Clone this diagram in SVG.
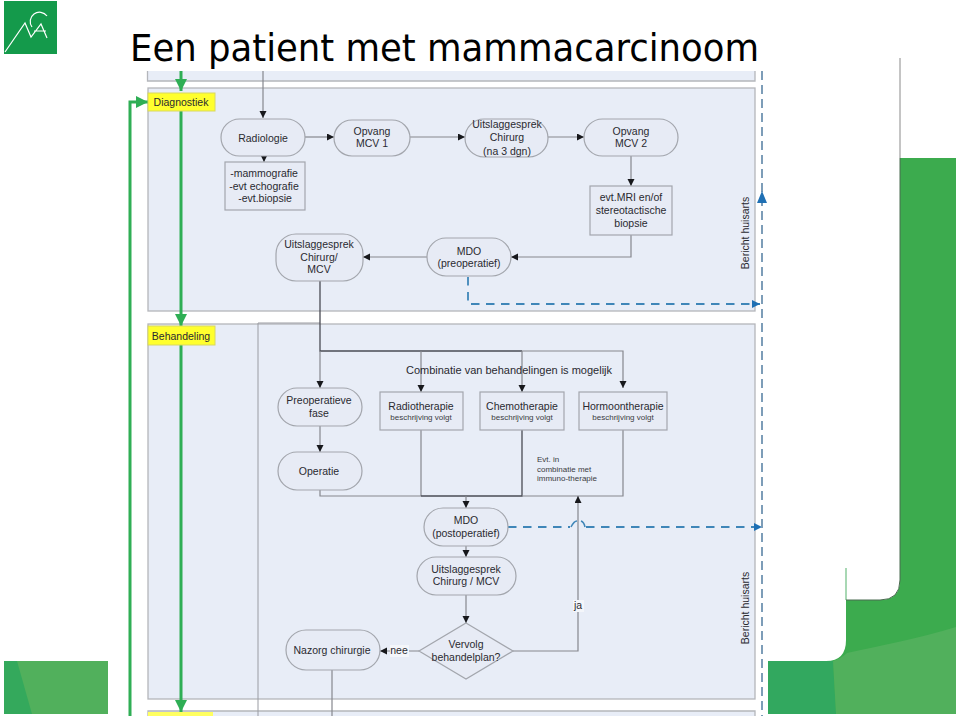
<svg xmlns="http://www.w3.org/2000/svg" width="960" height="716" viewBox="0 0 960 716">
<style>
.band{fill:#e8edf7;stroke:#b4b6bb;stroke-width:1.3}
.pill,.box,.dec{fill:#e7ebf5;stroke:#a3a6ad;stroke-width:1.2}
.lbl{fill:#ffff2e;stroke:#d8d860;stroke-width:1}
text{font-family:"Liberation Sans",Arial,sans-serif;fill:#2a2a30;text-anchor:middle}
.n{font-size:10.5px}
.s{font-size:8px;fill:#3c3c42}
.flow{fill:none;stroke:#85878e;stroke-width:1.2}
.dark{fill:none;stroke:#4a4c55;stroke-width:1.3}
.green{fill:none;stroke:#2fae55;stroke-width:3}
.dash{fill:none;stroke:#3f86b8;stroke-width:1.8;stroke-dasharray:8.5 6.5}
.side{fill:none;stroke:#7d9db8;stroke-width:2;stroke-dasharray:9 5}
</style>
<defs>
<marker id="a" markerWidth="8" markerHeight="8" refX="7" refY="3.5" orient="auto" markerUnits="userSpaceOnUse"><path d="M0 0L7 3.5L0 7Z" fill="#17181c"/></marker>
<marker id="g" markerWidth="14" markerHeight="14" refX="12" refY="6" orient="auto" markerUnits="userSpaceOnUse"><path d="M0 0L12 6L0 12Z" fill="#2fae55"/></marker>
<marker id="b" markerWidth="10" markerHeight="10" refX="8" refY="4" orient="auto" markerUnits="userSpaceOnUse"><path d="M0 0L8 4L0 8Z" fill="#1f70b4"/></marker>
</defs>

<!-- slide background -->
<rect width="960" height="716" fill="#fff"/>
<g id="backdrop">
<path d="M900 158H956V714H768V661H826Q846 661 846 640V600H880Q900 600 900 580Z" fill="#3cab4e"/>
<path d="M768 661H833L836 714H768Z" fill="#32a85f"/>
<path d="M833 661Q842 658 847 653C880 646 920 638 956 627V714H836Z" fill="#51b05c"/>
<path d="M900 58V158" fill="none" stroke="#8a8a8a"/>
<path d="M846 568V600" fill="none" stroke="#a8d8b4" stroke-width="2"/>
<path d="M846 600H880Q900 600 900 580V158" fill="none" stroke="#4b6b50" stroke-width="1"/>
<rect x="4" y="661" width="104" height="53" fill="#51b05c"/>
<path d="M4 661H17L32 714H4Z" fill="#34a95c"/>
</g>
<g id="logo">
<rect x="4" y="1" width="53" height="53" fill="#149a4b"/>
<path d="M5 52L25 23L31 37L41 24L47 38M47 16A9 9 0 1 0 32 27M34 31H46" fill="none" stroke="#fff" stroke-width="1.2"/>
</g>
<text x="130" y="61" style="font-family:'DejaVu Sans',Verdana,sans-serif;font-size:37px;text-anchor:start;fill:#000" textLength="629" lengthAdjust="spacingAndGlyphs">Een patient met mammacarcinoom</text>

<!-- swimlanes -->
<g id="lanes">
<path d="M147 71H755V81H147Z" fill="#e8edf7"/>
<path d="M147.500 71V81H755V71" fill="none" stroke="#b4b6bb" stroke-width="1.300"/>
<rect class="band" x="148" y="88" width="607" height="223"/>
<rect class="band" x="148" y="324" width="607" height="375"/>
<path d="M148 716V711H755V716" fill="#e8edf7" stroke="#b4b6bb" stroke-width="1.300"/>
<path d="M258 716V323H320" fill="none" stroke="#9a9ca3" stroke-width="1"/>
</g>

<!-- connectors -->
<g id="connectors">
<path class="flow" d="M263 71V118" marker-end="url(#a)"/>
<path class="flow" d="M264 156V162" marker-end="url(#a)"/>
<path class="flow" d="M305 137H334" marker-end="url(#a)"/>
<path class="flow" d="M410 137H465" marker-end="url(#a)"/>
<path class="flow" d="M548 137H584" marker-end="url(#a)"/>
<path class="flow" d="M631 156V186" marker-end="url(#a)"/>
<path class="flow" d="M631 235V257H511" marker-end="url(#a)"/>
<path class="flow" d="M427 257H363" marker-end="url(#a)"/>
<path class="dark" d="M320 281V351H522"/>
<path class="flow" d="M522 351H623V388" marker-end="url(#a)"/>
<path class="flow" d="M320 351V388" marker-end="url(#a)"/>
<path class="flow" d="M421 351V392" marker-end="url(#a)"/>
<path class="flow" d="M522 351V392" marker-end="url(#a)"/>
<path class="flow" d="M320 426V452" marker-end="url(#a)"/>
<path class="flow" d="M320 489V496H421"/>
<path class="flow" d="M421 430V496"/>
<path class="dark" d="M421 496H522V430"/>
<path class="flow" d="M522 496H623V430"/>
<path class="flow" d="M466 496V508" marker-end="url(#a)"/>
<path class="flow" d="M466 546V557" marker-end="url(#a)"/>
<path class="flow" d="M466 595V623" marker-end="url(#a)"/>
<path class="flow" d="M419 651H380" marker-end="url(#a)"/>
<path class="flow" d="M513 651H578V496" marker-end="url(#a)"/>
<path class="flow" d="M332 670V716"/>
<path class="green" d="M181 71V91" marker-end="url(#g)"/>
<path class="green" d="M181 110V326" marker-end="url(#g)"/>
<path class="green" d="M181 345V712" marker-end="url(#g)"/>
<path class="green" d="M130 716V102H148" marker-end="url(#g)"/>
<path class="dash" d="M468 277V304H760" marker-end="url(#b)"/>
<path class="dash" d="M508 527H570M586 527H762" marker-end="url(#b)"/>
<path d="M571 527Q574 521 577 521M581 521Q584 522 585 527" fill="none" stroke="#3f86b8" stroke-width="1.500"/>
<path class="side" d="M762 71V716"/>
<path d="M757 203L762 191L767 203Z" fill="#1f70b4"/>
</g>

<!-- process steps -->
<g id="n-diagnostiek"><rect class="lbl" x="148" y="93" width="67" height="18"/><text class="n" x="181" y="106">Diagnostiek</text></g>
<g id="n-behandeling"><rect class="lbl" x="148" y="326" width="67" height="19"/><text class="n" x="181" y="340">Behandeling</text></g>
<g id="n-next"><rect x="148" y="712" width="65" height="4" fill="#ffff60"/></g>
<g id="n-radiologie"><rect class="pill" x="221" y="119" width="84" height="37" rx="18.500"/><text class="n" x="263" y="142">Radiologie</text></g>
<g id="n-onderzoek"><rect class="box" x="225" y="162" width="80" height="48"/><text class="n" x="264" y="177">-mammografie</text><text class="n" x="264" y="190">-evt echografie</text><text class="n" x="265" y="202">-evt.biopsie</text></g>
<g id="n-opvang1"><rect class="pill" x="334" y="120" width="76" height="36" rx="18"/><text class="n" x="372" y="135">Opvang</text><text class="n" x="372" y="147">MCV 1</text></g>
<g id="n-uitslag1"><rect class="pill" x="465" y="119" width="83" height="38" rx="19"/><text class="n" x="507" y="128">Uitslaggesprek</text><text class="n" x="507" y="141">Chirurg</text><text class="n" x="507" y="155">(na 3 dgn)</text></g>
<g id="n-opvang2"><rect class="pill" x="584" y="119" width="94" height="37" rx="18.500"/><text class="n" x="631" y="135">Opvang</text><text class="n" x="631" y="147">MCV 2</text></g>
<g id="n-mri"><rect class="box" x="590" y="186" width="82" height="49"/><text class="n" x="631" y="201">evt.MRI en/of</text><text class="n" x="631" y="214">stereotactische</text><text class="n" x="631" y="227">biopsie</text></g>
<g id="n-mdo1"><rect class="pill" x="427" y="238" width="84" height="38" rx="19"/><text class="n" x="469" y="255">MDO</text><text class="n" x="469" y="267">(preoperatief)</text></g>
<g id="n-uitslag2"><rect class="pill" x="276" y="234" width="87" height="47" rx="20"/><text class="n" x="319" y="248">Uitslaggesprek</text><text class="n" x="319" y="261">Chirurg/</text><text class="n" x="319" y="273">MCV</text></g>
<text class="n" x="509" y="374" style="font-size:11px">Combinatie van behandelingen is mogelijk</text>
<g id="n-preop"><rect class="pill" x="278" y="388" width="84" height="38" rx="19"/><text class="n" x="319" y="404">Preoperatieve</text><text class="n" x="319" y="417">fase</text></g>
<g id="n-radio"><rect class="box" x="380" y="392" width="83" height="38"/><text class="n" x="421" y="410">Radiotherapie</text><text class="s" x="421" y="420">beschrijving volgt</text></g>
<g id="n-chemo"><rect class="box" x="480" y="392" width="84" height="38"/><text class="n" x="522" y="410">Chemotherapie</text><text class="s" x="522" y="420">beschrijving volgt</text></g>
<g id="n-hormoon"><rect class="box" x="579" y="392" width="88" height="38"/><text class="n" x="623" y="410">Hormoontherapie</text><text class="s" x="623" y="420">beschrijving volgt</text></g>
<g id="n-operatie"><rect class="pill" x="278" y="452" width="84" height="38" rx="19"/><text class="n" x="319" y="475">Operatie</text></g>
<g id="n-evt"><text class="s" x="537" y="462" style="text-anchor:start">Evt. in</text><text class="s" x="537" y="472" style="text-anchor:start">combinatie met</text><text class="s" x="537" y="481" style="text-anchor:start">immuno-therapie</text></g>
<g id="n-mdo2"><rect class="pill" x="424" y="508" width="84" height="38" rx="19"/><text class="n" x="466" y="524">MDO</text><text class="n" x="466" y="537">(postoperatief)</text></g>
<g id="n-uitslag3"><rect class="pill" x="417" y="557" width="99" height="38" rx="19"/><text class="n" x="466" y="573">Uitslaggesprek</text><text class="n" x="466" y="585">Chirurg / MCV</text></g>
<g id="n-vervolg"><path class="dec" d="M466 623L513 651L466 679L419 651Z"/><text class="n" x="466" y="648">Vervolg</text><text class="n" x="466" y="661">behandelplan?</text></g>
<g id="n-nazorg"><rect class="pill" x="286" y="630" width="94" height="40" rx="20"/><text class="n" x="332" y="654">Nazorg chirurgie</text></g>
<g id="edge-labels">
<rect x="390" y="645" width="19" height="12" fill="#f4f6fa"/><text class="n" x="399" y="654">nee</text>
<rect x="573" y="600" width="11" height="12" fill="#f4f6fa"/><text class="n" x="578" y="609">ja</text>
<text class="n" transform="translate(749 233) rotate(-90)">Bericht huisarts</text>
<text class="n" transform="translate(749 608) rotate(-90)">Bericht huisarts</text>
</g>
</svg>
